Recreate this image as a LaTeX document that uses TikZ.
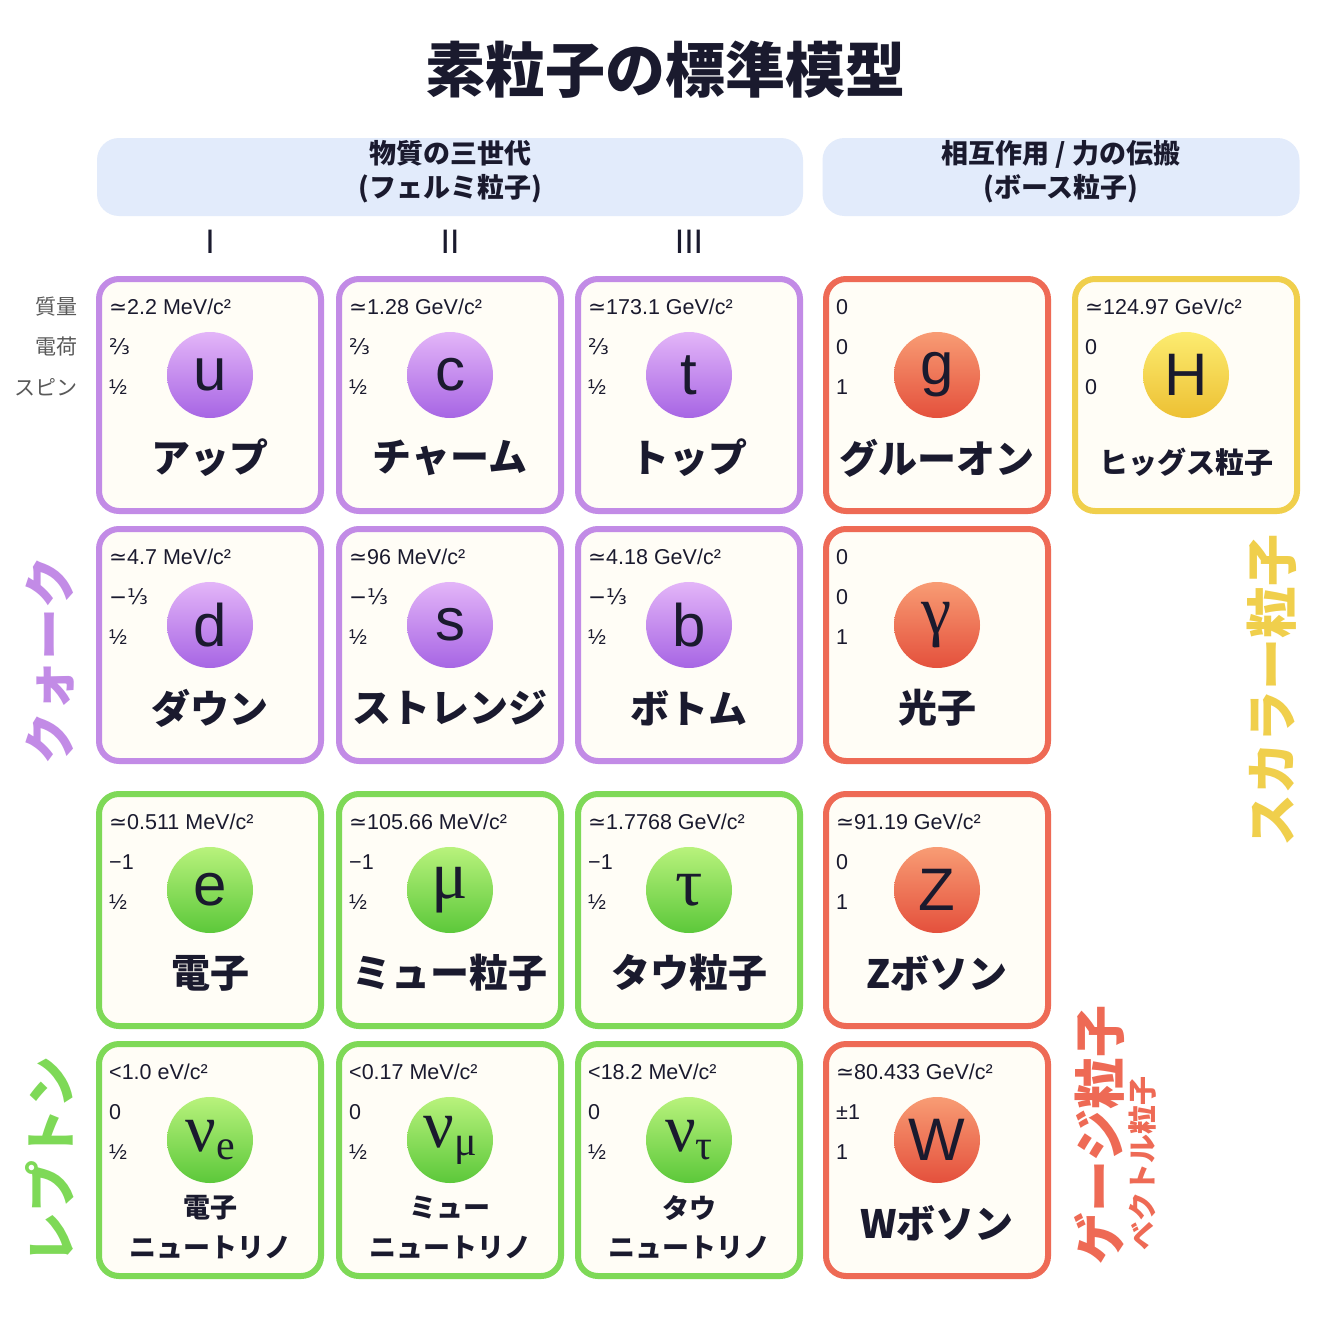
\documentclass[tikz,border=0pt]{standalone}
\usepackage{fontspec}
\setmainfont{Noto Sans CJK JP}
\newfontfamily\lat{Liberation Sans}
\newfontfamily\gr{Liberation Serif}
\newfontfamily\dv{DejaVu Sans}
\definecolor{qc}{HTML}{C28BE6}\definecolor{lc}{HTML}{7ED957}
\definecolor{gc}{HTML}{EE6A55}\definecolor{hc}{HTML}{F0CF4C}
\definecolor{hdr}{HTML}{E2EBFB}\definecolor{txt}{HTML}{1A1A2E}
\definecolor{qa}{HTML}{E3B5F8}\definecolor{qb}{HTML}{A765E4}
\definecolor{la}{HTML}{B8F27C}\definecolor{lb}{HTML}{5CC83A}
\definecolor{ga}{HTML}{F89C74}\definecolor{gb}{HTML}{E4503C}
\definecolor{ha}{HTML}{FCEC70}\definecolor{hb}{HTML}{EDC033}
\definecolor{cream}{HTML}{FFFDF6}
\newcommand\pcard[8]{%
 \node[card,draw=#4] (#1) at (#2,#3+117) {};
 \node[info] (#1m) at (#2-101,#3+29) {#5};
 \node[info] (#1c) at (#2-101,#3+69) {#6};
 \node[info] (#1s) at (#2-101,#3+109) {#7};
 \node[ball,ball#4] (#1b) at (#2,#3+97) {#8};}
\tikzset{card/.style={rounded corners=20pt,line width=6pt,fill=cream,minimum width=222pt,minimum height=232pt},
 info/.style={anchor=west,inner sep=0pt,font=\lat\fontsize{21.5}{23}\selectfont,text=txt},
 ball/.style={circle,minimum size=86pt,inner sep=0pt,font=\lat\fontsize{60}{60}\selectfont,text=txt},
 ballqc/.style={top color=qa,bottom color=qb},
 balllc/.style={top color=la,bottom color=lb},
 ballgc/.style={top color=ga,bottom color=gb},
 ballhc/.style={top color=ha,bottom color=hb},
 nm/.style={font=\bfseries\fontsize{39}{40}\selectfont,text=txt,inner sep=0pt},
 nm2/.style={font=\bfseries\fontsize{27}{29}\selectfont,text=txt,inner sep=0pt},
 hd/.style={fill=hdr,rounded corners=22pt,minimum height=78pt},
 vl/.style={rotate=90,font=\bfseries\fontsize{52}{54}\selectfont,inner sep=0pt}}
\newcommand\gs[1]{{\gr\fontsize{68}{68}\selectfont #1}}
\newcommand\sub[1]{\raisebox{-0.12em}{\fontsize{42}{42}\selectfont #1}}
\begin{document}
\begin{tikzpicture}[x=1pt,y=-1pt]
\useasboundingbox[fill=white] (0,0) rectangle (1330,1330);
\node[font=\bfseries\fontsize{60}{62}\selectfont,text=txt] (title) at (665,70) {素粒子の標準模型};
\node[hd,minimum width=706pt] (h1) at (450,177) {};
\node[hd,minimum width=477pt] (h2) at (1061,177) {};
\node[font=\bfseries\fontsize{27}{29}\selectfont,text=txt,align=center] (h1t) at (450,172) {物質の三世代\\[5pt](フェルミ粒子)};
\node[font=\bfseries\fontsize{27}{29}\selectfont,text=txt,align=center] (h2t) at (1061,172) {相互作用 / 力の伝搬\\[5pt](ボース粒子)};
\node[font=\lat\fontsize{34}{34}\selectfont,text=txt] (g1) at (210,242) {I};
\node[font=\lat\fontsize{34}{34}\selectfont,text=txt] (g2) at (450,242) {II};
\node[font=\lat\fontsize{34}{34}\selectfont,text=txt] (g3) at (689,242) {III};
\foreach \t/\y in {質量/307,電荷/347,スピン/387}
 \node[anchor=east,font=\fontsize{21}{22}\selectfont,text=black!65] at (81,\y) {\t};
% quarks
\pcard{u}{210}{278}{qc}{{\dv≃}2.2 MeV/c²}{\dv⅔}{½}{u}
\pcard{c}{450}{278}{qc}{{\dv≃}1.28 GeV/c²}{\dv⅔}{½}{c}
\pcard{t}{689}{278}{qc}{{\dv≃}173.1 GeV/c²}{\dv⅔}{½}{t}
\pcard{d}{210}{528}{qc}{{\dv≃}4.7 MeV/c²}{\dv−⅓}{½}{d}
\pcard{s}{450}{528}{qc}{{\dv≃}96 MeV/c²}{\dv−⅓}{½}{s}
\pcard{b}{689}{528}{qc}{{\dv≃}4.18 GeV/c²}{\dv−⅓}{½}{b}
% leptons
\pcard{e}{210}{793}{lc}{{\dv≃}0.511 MeV/c²}{−1}{½}{e}
\pcard{mu}{450}{793}{lc}{{\dv≃}105.66 MeV/c²}{−1}{½}{\gs{μ}}
\pcard{tau}{689}{793}{lc}{{\dv≃}1.7768 GeV/c²}{−1}{½}{\gs{τ}}
\pcard{ne}{210}{1043}{lc}{<1.0 eV/c²}{0}{½}{\gs{ν\sub{e}}}
\pcard{nm}{450}{1043}{lc}{<0.17 MeV/c²}{0}{½}{\gs{ν\sub{μ}}}
\pcard{nt}{689}{1043}{lc}{<18.2 MeV/c²}{0}{½}{\gs{ν\sub{τ}}}
% gauge
\pcard{g}{937}{278}{gc}{0}{0}{1}{g}
\pcard{ga}{937}{528}{gc}{0}{0}{1}{\gs{γ}}
\pcard{Z}{937}{793}{gc}{{\dv≃}91.19 GeV/c²}{0}{1}{Z}
\pcard{W}{937}{1043}{gc}{{\dv≃}80.433 GeV/c²}{±1}{1}{W}
\pcard{H}{1186}{278}{hc}{{\dv≃}124.97 GeV/c²}{0}{0}{H}
% names
\node[nm] (un) at (210,458) {アップ};
\node[nm] (cn) at (450,458) {チャーム};
\node[nm] (tn) at (689,458) {トップ};
\node[nm] (dn) at (210,708) {ダウン};
\node[nm] (sn) at (450,708) {ストレンジ};
\node[nm] (bn) at (689,708) {ボトム};
\node[nm] (en) at (210,973) {電子};
\node[nm] (mun) at (450,973) {ミュー粒子};
\node[nm] (taun) at (689,973) {タウ粒子};
\node[nm2] (nen) at (210,1208) {電子};
\node[nm2] (nen2) at (210,1248) {ニュートリノ};
\node[nm2] (nmn) at (450,1208) {ミュー};
\node[nm2] (nmn2) at (450,1248) {ニュートリノ};
\node[nm2] (ntn) at (689,1208) {タウ};
\node[nm2] (ntn2) at (689,1248) {ニュートリノ};
\node[nm] (gn) at (937,458) {グルーオン};
\node[nm] (gan) at (937,708) {光子};
\node[nm] (Zn) at (937,973) {Zボソン};
\node[nm] (Wn) at (937,1223) {Wボソン};
\node[nm2,font=\bfseries\fontsize{29}{30}\selectfont] (Hn) at (1186,462) {ヒッグス粒子};
% side labels
\node[vl,text=qc] (lq) at (50,660) {クォーク};
\node[vl,text=lc] (ll) at (50,1160) {レプトン};
\node[vl,text=hc] (ls) at (1272,690) {スカラー粒子};
\node[vl,text=gc] (lg) at (1100,1135) {ゲージ粒子};
\node[vl,text=gc,font=\bfseries\fontsize{29}{30}\selectfont] (lv) at (1143,1163) {ベクトル粒子};
\end{tikzpicture}
\end{document}
